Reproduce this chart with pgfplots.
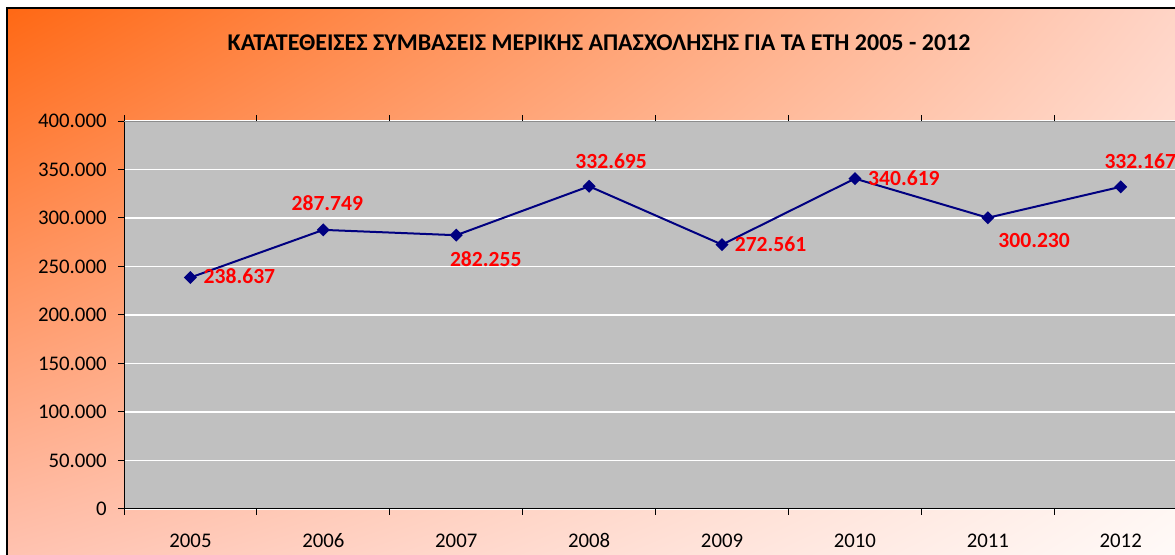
\documentclass[border=0pt]{standalone}
\usepackage{fontspec}
\setmainfont{Carlito}
\usepackage{pgfplots}
\usepackage{pgfplotstable}
\usetikzlibrary{shadings}
\pgfplotsset{compat=1.18}
\definecolor{plotgray}{RGB}{192,192,192}
\definecolor{navyline}{RGB}{0,0,128}
\definecolor{ulc}{RGB}{255,104,20}
\definecolor{urc}{RGB}{255,212,198}
\definecolor{llc}{RGB}{255,194,176}
\definecolor{lrc}{RGB}{255,250,248}
\definecolor{topline}{RGB}{140,140,140}

\pgfplotstableread{
x y dx dy label
0 238637 49 1 238.637
1 287749 4 26.5 287.749
2 282255 29.5 -23.7 282.255
3 332695 22 25.3 332.695
4 272561 48.5 0 272.561
5 340619 49 0 340.619
6 300230 46.3 -22.4 300.230
7 332167 19.5 25.3 332.167
}\datatable

\begin{document}
\begin{tikzpicture}[x=0.5pt,y=0.5pt]
\begin{scope}
\clip (0,0) rectangle (1175,555);
\fill[white] (0,0) rectangle (1175,555);
\shade[upper left=ulc, upper right=urc, lower left=llc, lower right=lrc] (7,0) rectangle (1175,547);
\draw[black, line width=1pt] (7,-20) -- (7,547) -- (1200,547);
\end{scope}
\node[font=\bfseries\fontsize{12}{14}\selectfont, anchor=center] at (599,512) {ΚΑΤΑΤΕΘΕΙΣΕΣ ΣΥΜΒΑΣΕΙΣ ΜΕΡΙΚΗΣ ΑΠΑΣΧΟΛΗΣΗΣ ΓΙΑ ΤΑ ΕΤΗ 2005 - 2012};
\begin{axis}[
  at={(62pt,23pt)}, anchor=south west,
  scale only axis, width=531.6pt, height=194pt,
  xmin=-0.5, xmax=7.5, ymin=0, ymax=400000,
  axis line style={draw=none},
  axis background/.style={fill=plotgray},
  ytick={0,50000,100000,150000,200000,250000,300000,350000,400000},
  scaled y ticks=false,
  yticklabel={\pgfmathprintnumber[fixed,precision=0,1000 sep={.},assume math mode=true]{\tick}},
  yticklabel style={font=\fontsize{10.4}{12}\selectfont, anchor=east, inner sep=0pt, xshift=-5.5pt},
  tick align=outside, major tick length=3pt,
  tick style={black, line width=0.5pt},
  xtick={-0.5,0.5,1.5,2.5,3.5,4.5,5.5,6.5,7.5},
  xticklabels={},
  extra x ticks={0,1,2,3,4,5,6,7},
  extra x tick labels={2005,2006,2007,2008,2009,2010,2011,2012},
  extra x tick style={major tick length=0pt, grid=none},
  xticklabel style={font=\fontsize{10.4}{12}\selectfont, anchor=base, inner sep=0pt, text depth=0pt, yshift=-19.3pt},
  ymajorgrids, major grid style={white, line width=0.75pt},
  point meta=explicit symbolic,
  visualization depends on={\thisrow{dx} \as \dx},
  visualization depends on={\thisrow{dy} \as \dy},
  nodes near coords,
  every node near coord/.append style={anchor=center, xshift=0.5*\dx pt, yshift=0.5*\dy pt, text=red, font=\bfseries\fontsize{10.8}{12}\selectfont, inner sep=0pt},
]
\addplot[color=navyline, line width=1pt, mark=square*, mark size=1.8pt, mark options={fill=navyline, draw=navyline, rotate=45}] table[x=x, y=y, meta=label] {\datatable};
\draw[black, line width=0.6pt] (rel axis cs:0,0) -- (rel axis cs:0,1);
\draw[black, line width=0.6pt] (rel axis cs:0,0) -- (rel axis cs:1,0);
\draw[topline, line width=1pt] (rel axis cs:0,1) -- (rel axis cs:1,1);
\end{axis}
\pgfresetboundingbox
\useasboundingbox (0,0) rectangle (1175,555);
\end{tikzpicture}
\end{document}
